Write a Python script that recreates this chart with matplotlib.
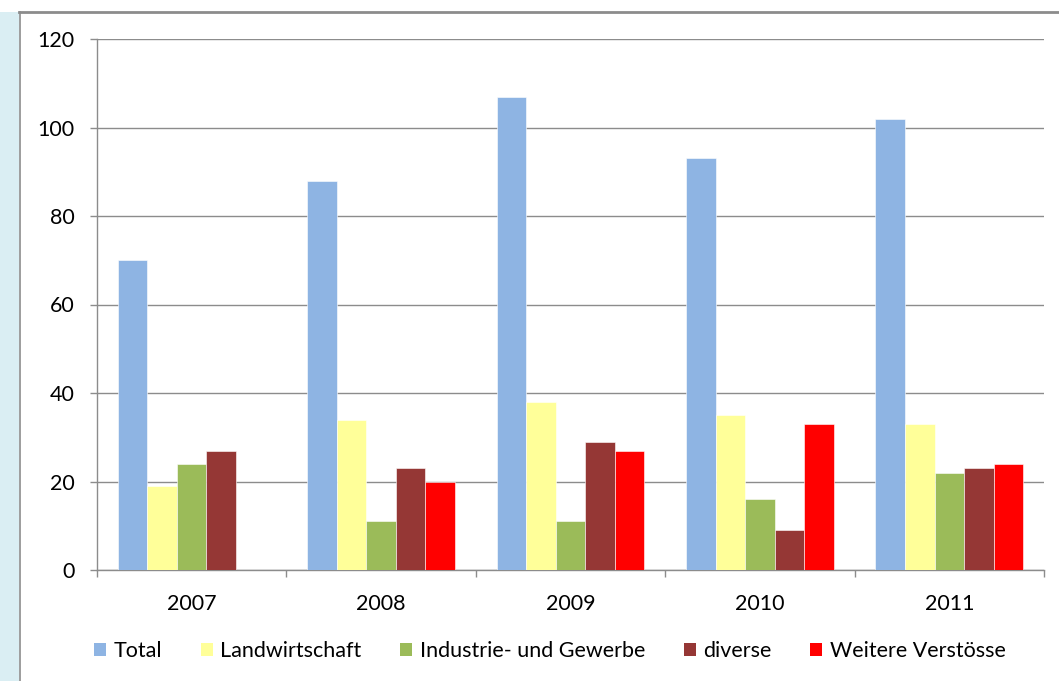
import matplotlib
matplotlib.use("Agg")
import matplotlib.pyplot as plt
import numpy as np
from matplotlib.patches import Rectangle
from matplotlib.lines import Line2D

years = ["2007", "2008", "2009", "2010", "2011"]
series_names = ["Total", "Landwirtschaft", "Industrie- und Gewerbe", "diverse", "Weitere Verstösse"]
total = [70, 88, 107, 93, 102]
landwirtschaft = [19, 34, 38, 35, 33]
industrie = [24, 11, 11, 16, 22]
diverse = [27, 23, 29, 9, 23]
weitere = [0, 20, 27, 33, 24]
colors = ["#8EB4E3", "#FFFF99", "#9BBB59", "#953735", "#FF0000"]
yticks = [0, 20, 40, 60, 80, 100, 120]

plt.rcParams['font.family'] = ['Lato', 'DejaVu Sans']

W, H = 1059, 681
fig = plt.figure(figsize=(W / 100, H / 100), dpi=100)

# background decoration: light blue strip and frame
fig.patches.append(Rectangle((0, 0), 19 / W, (H - 12) / H, transform=fig.transFigure,
                             facecolor="#DAEEF3", edgecolor="none", zorder=0))
fig.lines.append(Line2D([19 / W, 1], [(H - 12) / H, (H - 12) / H], transform=fig.transFigure,
                        color="#8C8C8C", lw=2))
fig.lines.append(Line2D([19.5 / W, 19.5 / W], [0, (H - 12) / H], transform=fig.transFigure,
                        color="#8C8C8C", lw=1.2))

ax = fig.add_axes([97 / W, (H - 570) / H, (1044 - 97) / W, (570 - 39) / H])

data = [total, landwirtschaft, industrie, diverse, weitere]
x = np.arange(len(years))
bw = 0.156
for i, (vals, c, name) in enumerate(zip(data, colors, series_names)):
    ax.bar(x + (i - 2) * bw, vals, width=bw, color=c, edgecolor="white", linewidth=0.4,
           label=name, zorder=3)

ax.set_xlim(-0.5, len(years) - 0.5)
ax.set_ylim(0, 120)
ax.set_yticks(yticks)
ax.set_yticklabels([str(v) for v in yticks])
ax.yaxis.grid(True, color="#8C8C8C", linewidth=1.0, zorder=0)
ax.set_axisbelow(True)

fs = 15.5
ax.set_xticks(x)
ax.set_xticklabels(years)
ax.set_xticks(np.arange(len(years) + 1) - 0.5, minor=True)
ax.tick_params(axis="x", which="major", length=0, pad=17, labelsize=fs, colors="#000000")
ax.tick_params(axis="x", which="minor", length=5, width=1, color="#8C8C8C")
ax.tick_params(axis="y", length=5, width=1, color="#8C8C8C", pad=11, labelsize=fs)

for s in ["top", "right"]:
    ax.spines[s].set_visible(False)
for s in ["left", "bottom"]:
    ax.spines[s].set_color("#8C8C8C")
    ax.spines[s].set_linewidth(1.0)

handles = [Rectangle((0, 0), 1, 1, facecolor=c, edgecolor="none") for c in colors]
fig.legend(handles, series_names, loc="center", bbox_to_anchor=(550 / W, (H - 651) / H),
           ncol=5, frameon=False, fontsize=fs, handlelength=0.55, handleheight=0.55,
           handletextpad=0.35, columnspacing=1.8)

fig.savefig("out.png", dpi=100, facecolor="white")
